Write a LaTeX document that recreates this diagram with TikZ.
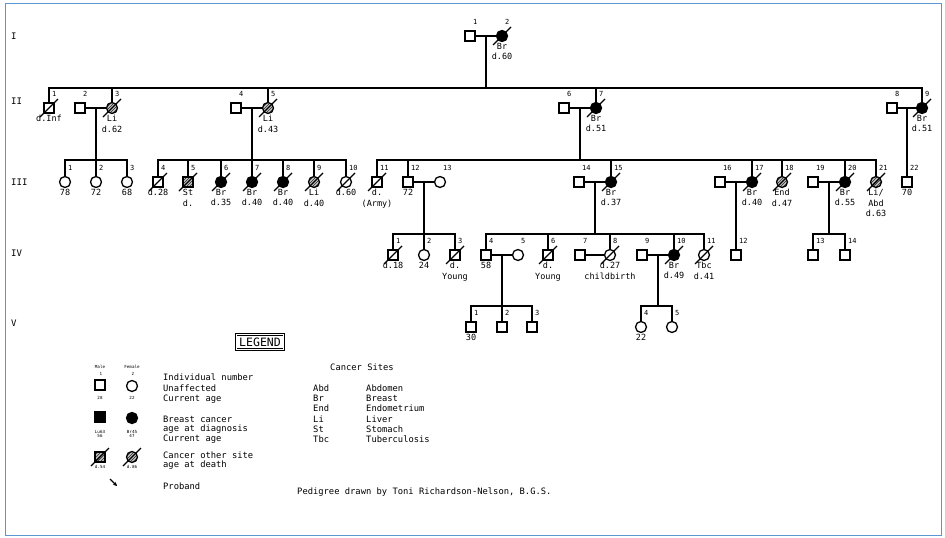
\documentclass[tikz,border=0pt]{standalone}
\usepackage{fontspec}
\newfontfamily\plotfont{DejaVu Sans Mono}
\usetikzlibrary{calc,patterns,arrows.meta}
\newcommand\who[5]{\node[#2] (#1) at (#3,#4) {};\node[num] (#1n) at ($(#1)+(3,-14)$) {#5};}
\newcommand\lbl[2]{\node[lab] (#1t) at ($(#1)+(0,7)$) {#2};}
\newcommand\pdead[1]{\draw[slashl] ($(#1)+(-9,9)$) -- ($(#1)+(9,-9)$);}
\newcommand\marry[3]{\draw[conn] (#1) -- (#2);\coordinate (#3) at ($(#1)!0.5!(#2)$);}
\begin{document}
\begin{tikzpicture}[x=1pt,y=-1pt,
  sym/.style={draw=black,line width=1.3pt,inner sep=0pt,fill=white},
  M/.style={sym,rectangle,minimum size=10pt},
  F/.style={sym,circle,minimum size=11pt},
  aff/.style={fill=black},
  oth/.style={preaction={fill=gray!45},pattern=north east lines,pattern color=black!85},
  conn/.style={line width=1.7pt,line cap=rect},
  slashl/.style={line width=1.1pt},
  num/.style={font=\plotfont\fontsize{7}{7}\selectfont,anchor=west,inner sep=0pt},
  lab/.style={font=\plotfont\fontsize{8.5}{10.5}\selectfont,align=center,anchor=north,inner sep=0pt},
  gen/.style={font=\plotfont\fontsize{9}{9}\selectfont,anchor=west,inner sep=0pt},
  leg/.style={font=\plotfont\fontsize{8.8}{8.8}\selectfont,anchor=west,inner sep=0pt},
  tiny/.style={font=\plotfont\fontsize{4.2}{4.8}\selectfont,inner sep=0pt,align=center}
]
\useasboundingbox (0,0) rectangle (945,538);
\draw[color={rgb,255:red,90;green,150;blue,210},line width=1pt] (5,3) rectangle (941,535);

% generation labels
\node[gen] (gI) at (11,36) {I};
\node[gen] (gII) at (11,101) {II};
\node[gen] (gIII) at (11,182) {III};
\node[gen] (gIV) at (11,253) {IV};
\node[gen] (gV) at (11,323) {V};

% ---------- Generation I
\who{I1}{M}{470}{36}{1}
\who{I2}{F,aff}{502}{36}{2}
% ---------- Generation II
\who{II1}{M}{49}{108}{1}
\who{II2}{M}{80}{108}{2}
\who{II3}{F,oth}{112}{108}{3}
\who{II4}{M}{236}{108}{4}
\who{II5}{F,oth}{268}{108}{5}
\who{II6}{M}{564}{108}{6}
\who{II7}{F,aff}{596}{108}{7}
\who{II8}{M}{892}{108}{8}
\who{II9}{F,aff}{922}{108}{9}
% ---------- Generation III
\who{III1}{F}{65}{182}{1}
\who{III2}{F}{96}{182}{2}
\who{III3}{F}{127}{182}{3}
\who{III4}{M}{158}{182}{4}
\who{III5}{M,oth}{188}{182}{5}
\who{III6}{F,aff}{221}{182}{6}
\who{III7}{F,aff}{252}{182}{7}
\who{III8}{F,aff}{283}{182}{8}
\who{III9}{F,oth}{314}{182}{9}
\who{III10}{F}{346}{182}{10}
\who{III11}{M}{377}{182}{11}
\who{III12}{M}{408}{182}{12}
\who{III13}{F}{440}{182}{13}
\who{III14}{M}{579}{182}{14}
\who{III15}{F,aff}{611}{182}{15}
\who{III16}{M}{720}{182}{16}
\who{III17}{F,aff}{752}{182}{17}
\who{III18}{F,oth}{782}{182}{18}
\who{III19}{M}{813}{182}{19}
\who{III20}{F,aff}{845}{182}{20}
\who{III21}{F,oth}{876}{182}{21}
\who{III22}{M}{907}{182}{22}
% ---------- Generation IV
\who{IV1}{M}{393}{255}{1}
\who{IV2}{F}{424}{255}{2}
\who{IV3}{M}{455}{255}{3}
\who{IV4}{M}{486}{255}{4}
\who{IV5}{F}{518}{255}{5}
\who{IV6}{M}{548}{255}{6}
\who{IV7}{M}{580}{255}{7}
\who{IV8}{F}{610}{255}{8}
\who{IV9}{M}{642}{255}{9}
\who{IV10}{F,aff}{674}{255}{10}
\who{IV11}{F}{704}{255}{11}
\who{IV12}{M}{736}{255}{12}
\who{IV13}{M}{813}{255}{13}
\who{IV14}{M}{845}{255}{14}
% ---------- Generation V
\who{V1}{M}{471}{327}{1}
\who{V2}{M}{502}{327}{2}
\who{V3}{M}{532}{327}{3}
\who{V4}{F}{641}{327}{4}
\who{V5}{F}{672}{327}{5}

% ---------- connectors
\marry{I1}{I2}{mI}
\coordinate (sIIa) at (49,88); \coordinate (sIIb) at (922,88);
\draw[conn] (sIIa) -- (sIIb);
\draw[conn] (mI) -- (mI |- sIIa);
\foreach \c in {II1,II3,II5,II7,II9}{\draw[conn] (\c) -- (\c |- sIIa);}

\marry{II2}{II3}{mII23}
\coordinate (sA1) at (65,160); \coordinate (sA2) at (127,160);
\draw[conn] (sA1) -- (sA2); \draw[conn] (mII23) -- (mII23 |- sA1);
\foreach \c in {III1,III2,III3}{\draw[conn] (\c) -- (\c |- sA1);}

\marry{II4}{II5}{mII45}
\coordinate (sB1) at (158,160); \coordinate (sB2) at (346,160);
\draw[conn] (sB1) -- (sB2); \draw[conn] (mII45) -- (III7);
\foreach \c in {III4,III5,III6,III8,III9,III10}{\draw[conn] (\c) -- (\c |- sB1);}

\marry{II6}{II7}{mII67}
\coordinate (sC1) at (377,160); \coordinate (sC2) at (876,160);
\draw[conn] (sC1) -- (sC2); \draw[conn] (mII67) -- (mII67 |- sC1);
\foreach \c in {III11,III12,III15,III17,III18,III20,III21}{\draw[conn] (\c) -- (\c |- sC1);}

\marry{II8}{II9}{mII89}
\draw[conn] (mII89) -- (III22);

\marry{III12}{III13}{mIII1213}
\coordinate (sD1) at (393,234); \coordinate (sD2) at (455,234);
\draw[conn] (sD1) -- (sD2); \draw[conn] (mIII1213) -- (IV2);
\foreach \c in {IV1,IV3}{\draw[conn] (\c) -- (\c |- sD1);}

\marry{III14}{III15}{mIII1415}
\coordinate (sE1) at (486,234); \coordinate (sE2) at (704,234);
\draw[conn] (sE1) -- (sE2); \draw[conn] (mIII1415) -- (mIII1415 |- sE1);
\foreach \c in {IV4,IV6,IV8,IV10,IV11}{\draw[conn] (\c) -- (\c |- sE1);}

\marry{III16}{III17}{mIII1617}
\draw[conn] (mIII1617) -- (IV12);

\marry{III19}{III20}{mIII1920}
\coordinate (sF1) at (813,234); \coordinate (sF2) at (845,234);
\draw[conn] (sF1) -- (sF2); \draw[conn] (mIII1920) -- (mIII1920 |- sF1);
\foreach \c in {IV13,IV14}{\draw[conn] (\c) -- (\c |- sF1);}

\marry{IV4}{IV5}{mIV45}
\coordinate (sG1) at (471,306); \coordinate (sG2) at (532,306);
\draw[conn] (sG1) -- (sG2); \draw[conn] (mIV45) -- (V2);
\foreach \c in {V1,V3}{\draw[conn] (\c) -- (\c |- sG1);}

\marry{IV7}{IV8}{mIV78}

\marry{IV9}{IV10}{mIV910}
\coordinate (sH1) at (641,306); \coordinate (sH2) at (672,306);
\draw[conn] (sH1) -- (sH2); \draw[conn] (mIV910) -- (mIV910 |- sH1);
\foreach \c in {V4,V5}{\draw[conn] (\c) -- (\c |- sH1);}

% ---------- deceased marks
\foreach \c in {I2,II1,II3,II5,II7,II9,III4,III5,III6,III7,III8,III9,III10,III11,III15,III17,III18,III20,III21,IV1,IV3,IV6,IV8,IV10,IV11}{\pdead{\c}}

% ---------- labels below
\lbl{I2}{Br\\d.60}
\lbl{II1}{d.Inf}
\lbl{II3}{Li\\d.62}
\lbl{II5}{Li\\d.43}
\lbl{II7}{Br\\d.51}
\lbl{II9}{Br\\d.51}
\lbl{III1}{78}
\lbl{III2}{72}
\lbl{III3}{68}
\lbl{III4}{d.28}
\lbl{III5}{St\\d.}
\lbl{III6}{Br\\d.35}
\lbl{III7}{Br\\d.40}
\lbl{III8}{Br\\d.40}
\lbl{III9}{Li\\d.40}
\lbl{III10}{d.60}
\lbl{III11}{d.\\(Army)}
\lbl{III12}{72}
\lbl{III15}{Br\\d.37}
\lbl{III17}{Br\\d.40}
\lbl{III18}{End\\d.47}
\lbl{III20}{Br\\d.55}
\lbl{III21}{Li/\\Abd\\d.63}
\lbl{III22}{70}
\lbl{IV1}{d.18}
\lbl{IV2}{24}
\lbl{IV3}{d.\\Young}
\lbl{IV4}{58}
\lbl{IV6}{d.\\Young}
\lbl{IV8}{d.27\\childbirth}
\lbl{IV10}{Br\\d.49}
\lbl{IV11}{Tbc\\d.41}
\lbl{V1}{30}
\lbl{V4}{22}

% ---------- legend
\node[draw,double,double distance=1.2pt,line width=0.6pt,inner sep=3pt,
  font=\plotfont\fontsize{11.5}{11.5}\selectfont] (legbox) at (260,342) {LEGEND};

\node[tiny] (LMt) at (100,367) {Male};
\node[tiny] (LFt) at (132,367) {Female};
\node[tiny] (LMn) at (101,374) {1};
\node[tiny] (LFn) at (133,374) {2};
\node[M] (LM) at (100,385) {};
\node[F] (LF) at (132,386) {};
\node[tiny] (LMa) at (100,398) {28};
\node[tiny] (LFa) at (132,398) {22};
\node[M,aff] (LMb) at (100,417) {};
\node[F,aff] (LFb) at (132,418) {};
\node[tiny] (LMbt) at (100,434) {Lu63\\56};
\node[tiny] (LFbt) at (132,434) {Br45\\47};
\node[M,oth] (LMo) at (100,457) {};
\node[F,oth] (LFo) at (132,457) {};
\pdead{LMo}
\pdead{LFo}
\node[tiny] (LMot) at (100,467) {d.54};
\node[tiny] (LFot) at (132,467) {d.86};
\coordinate (LPa) at (110,479); \coordinate (LPb) at (117,486);
\draw[line width=1.2pt,-{Stealth[length=4pt,width=4pt]}] (LPa) -- (LPb);

\node[leg] (L1) at (163,377) {Individual number};
\node[leg] (L2) at (163,388) {Unaffected};
\node[leg] (L3) at (163,399) {Current age};
\node[leg] (L4) at (163,419) {Breast cancer};
\node[leg] (L5) at (163,429) {age at diagnosis};
\node[leg] (L6) at (163,439) {Current age};
\node[leg] (L7) at (163,455) {Cancer other site};
\node[leg] (L8) at (163,465) {age at death};
\node[leg] (L9) at (163,486) {Proband};

\node[leg] (CS) at (330,367) {Cancer Sites};
\node[leg] (a1) at (313,388) {Abd};  \node[leg] (b1) at (366,388) {Abdomen};
\node[leg] (a2) at (313,398) {Br};   \node[leg] (b2) at (366,398) {Breast};
\node[leg] (a3) at (313,408) {End};  \node[leg] (b3) at (366,408) {Endometrium};
\node[leg] (a4) at (313,419) {Li};   \node[leg] (b4) at (366,419) {Liver};
\node[leg] (a5) at (313,429) {St};   \node[leg] (b5) at (366,429) {Stomach};
\node[leg] (a6) at (313,439) {Tbc};  \node[leg] (b6) at (366,439) {Tuberculosis};

\node[leg] (credit) at (297,492) {Pedigree drawn by Toni Richardson-Nelson, B.G.S.};
\end{tikzpicture}
\end{document}
